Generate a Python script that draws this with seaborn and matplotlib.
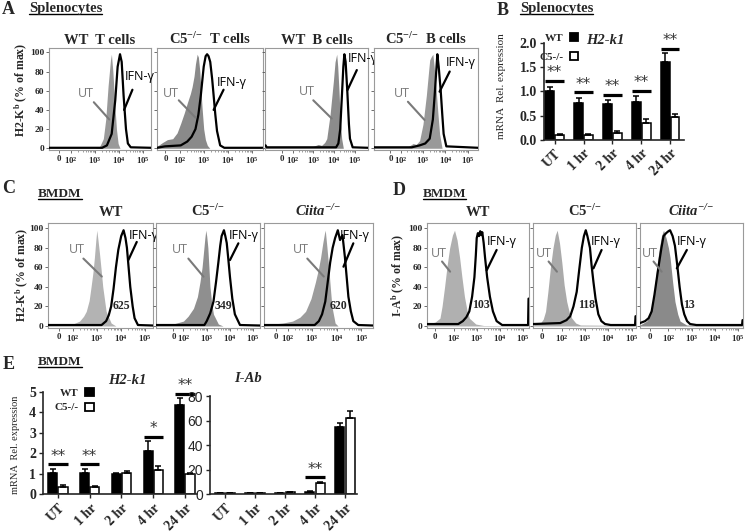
import numpy as np
import pandas as pd
import matplotlib
matplotlib.use('Agg')
import matplotlib.pyplot as plt
import seaborn as sns
from matplotlib.lines import Line2D

# ---------------------------------------------------------------- data
time_points = ['UT', '1 hr', '2 hr', '4 hr', '24 hr']
genotypes = ['WT', 'C5-/-']

# Panel B: splenocytes H2-k1 mRNA
b_wt = [1.02, 0.76, 0.74, 0.79, 1.60]
b_wt_err = [0.07, 0.11, 0.08, 0.12, 0.19]
b_c5 = [0.11, 0.11, 0.15, 0.36, 0.47]
b_c5_err = [0.01, 0.01, 0.04, 0.07, 0.06]
b_sig_y = [1.22, 0.98, 0.93, 1.02, 1.88]
b_sig_lab = ['**', '**', '**', '**', '**']

# Panel E left: BMDM H2-k1 mRNA
e1_wt = [1.05, 1.02, 0.98, 2.10, 4.35]
e1_wt_err = [0.17, 0.20, 0.08, 0.48, 0.32]
e1_c5 = [0.37, 0.37, 1.02, 1.20, 0.97]
e1_c5_err = [0.07, 0.05, 0.12, 0.17, 0.06]
e1_sig_y = [1.46, 1.46, None, 2.80, 4.90]
e1_sig_lab = ['**', '**', '', '*', '**']

# Panel E right: BMDM I-Ab mRNA
e2_wt = [1.0, 1.0, 1.0, 2.2, 55.0]
e2_wt_err = [0.2, 0.2, 0.2, 0.5, 3.3]
e2_c5 = [1.0, 1.0, 1.6, 8.9, 62.3]
e2_c5_err = [0.2, 0.2, 0.3, 1.4, 5.5]
e2_sig_y = [None, None, None, 13.8, None]
e2_sig_lab = ['', '', '', '**', '']

# Flow histograms (x in log10 display units, y in % of max)
# A: splenocytes H2-Kb
a1_ut_x = [1.07, 3.0, 3.2, 3.35, 3.45, 3.55, 3.65, 3.69, 3.75, 3.82, 3.9, 3.97, 4.05, 5.35]
a1_ut_y = [0, 0, 2, 10, 30, 65, 92, 98, 80, 50, 20, 5, 0, 0]
a1_ifn_x = [1.07, 3.3, 3.5, 3.7, 3.85, 3.95, 4.05, 4.12, 4.2, 4.3, 4.38, 4.5, 5.35]
a1_ifn_y = [0.5, 0.5, 3, 15, 50, 85, 98, 90, 55, 20, 5, 1, 0.5]

a2_ut_x = [1.07, 1.3, 1.5, 1.72, 1.9, 2.05, 2.2, 2.32, 2.45, 2.52, 2.6, 2.66, 2.73, 2.78, 2.84, 2.93, 3.0, 3.07, 3.15, 3.25, 5.45]
a2_ut_y = [2, 6, 9, 10, 16, 26, 37, 47, 57, 64, 75, 88, 98, 95, 80, 43, 20, 9, 3, 0, 0]
a2_ifn_x = [1.07, 1.4, 2.05, 2.32, 2.5, 2.66, 2.78, 2.88, 3.0, 3.08, 3.14, 3.2, 3.27, 3.35, 3.41, 3.48, 3.55, 3.68, 3.85, 5.45]
a2_ifn_y = [0.5, 2, 3, 7, 12, 20, 35, 55, 85, 96, 98, 96, 90, 72, 55, 35, 18, 3, 0.5, 0.5]

a3_ut_x = [0.67, 2.5, 3.0, 3.24, 3.4, 3.55, 3.65, 3.81, 3.97, 4.05, 4.13, 4.18, 4.24, 4.3, 4.37, 4.45, 5.64]
a3_ut_y = [1, 1, 2, 4, 3, 6, 10, 35, 70, 90, 98, 85, 60, 30, 10, 0, 0]
a3_ifn_x = [0.67, 0.7, 0.75, 1.0, 4.1, 4.21, 4.3, 4.37, 4.45, 4.5, 4.56, 4.64, 4.72, 4.77, 4.9, 5.64]
a3_ifn_y = [3, 3, 1, 1, 1, 5, 20, 50, 85, 98, 90, 60, 25, 10, 1, 0.5]

a4_ut_x = [0.82, 2.3, 2.56, 2.7, 2.85, 3.0, 3.15, 3.25, 3.3, 3.36, 3.44, 3.5, 3.59, 3.67, 3.74, 3.85, 5.45]
a4_ut_y = [1, 1, 5, 4, 8, 25, 55, 80, 92, 95, 98, 85, 60, 35, 15, 0, 0]
a4_ifn_x = [0.82, 2.5, 2.85, 3.1, 3.3, 3.44, 3.52, 3.59, 3.64, 3.7, 3.79, 3.86, 3.92, 4.04, 5.45]
a4_ifn_y = [1, 1, 3, 5, 10, 30, 55, 80, 98, 85, 60, 35, 15, 2, 0.5]

# C: BMDM H2-Kb
c1_ut_x = [0.96, 1.74, 2.0, 2.28, 2.45, 2.56, 2.68, 2.76, 2.84, 2.9, 2.96, 3.0, 3.05, 3.11, 3.18, 3.25, 3.39, 3.6, 3.8, 5.35]
c1_ut_y = [0.5, 1, 2, 5, 10, 15, 26, 40, 55, 70, 88, 98, 88, 75, 58, 40, 15, 3, 0, 0]
c1_ifn_x = [0.96, 3.2, 3.39, 3.5, 3.6, 3.7, 3.8, 3.9, 4.02, 4.12, 4.2, 4.26, 4.33, 4.4, 4.5, 4.58, 4.72, 5.35]
c1_ifn_y = [1, 1, 5, 11, 20, 38, 60, 78, 92, 98, 90, 80, 60, 40, 20, 8, 1, 0.5]

c2_ut_x = [0.82, 1.4, 2.0, 2.2, 2.43, 2.6, 2.71, 2.8, 2.86, 2.92, 2.96, 3.0, 3.05, 3.14, 3.22, 3.29, 3.5, 3.7, 5.29]
c2_ut_y = [0.5, 1, 5, 10, 18, 30, 45, 60, 75, 90, 98, 92, 80, 40, 22, 12, 2, 0, 0]
c2_ifn_x = [0.82, 2.9, 3.0, 3.15, 3.29, 3.4, 3.5, 3.58, 3.64, 3.74, 3.8, 3.86, 3.93, 4.0, 4.1, 4.21, 4.43, 5.29]
c2_ifn_y = [1, 1, 5, 13, 25, 45, 65, 82, 92, 98, 92, 85, 68, 50, 28, 12, 1, 0.5]

c3_ut_x = [1.04, 1.4, 1.8, 2.2, 2.5, 2.73, 2.95, 3.13, 3.25, 3.34, 3.43, 3.5, 3.53, 3.6, 3.67, 3.74, 3.8, 3.93, 4.05, 5.47]
c3_ut_y = [1, 2, 3, 5, 9, 15, 28, 45, 58, 70, 85, 95, 98, 80, 60, 38, 20, 3, 0, 0]
c3_ifn_x = [1.04, 3.1, 3.27, 3.4, 3.53, 3.63, 3.73, 3.83, 3.93, 4.04, 4.13, 4.23, 4.33, 4.4, 4.47, 4.57, 4.67, 4.87, 5.47]
c3_ifn_y = [1, 1, 5, 12, 25, 45, 65, 80, 90, 98, 88, 93, 70, 50, 30, 15, 5, 1, 0.5]

# D: BMDM I-Ab
d1_ut_x = [0.85, 1.2, 1.41, 1.5, 1.61, 1.72, 1.83, 1.95, 2.04, 2.15, 2.26, 2.36, 2.47, 2.58, 2.68, 2.96, 3.3, 5.26]
d1_ut_y = [2, 4, 8, 20, 40, 62, 80, 93, 98, 88, 70, 50, 30, 16, 8, 2, 0.5, 0.5]
d1_ifn_x = [0.85, 2.2, 2.4, 2.55, 2.68, 2.8, 2.9, 2.96, 3.0, 3.05, 3.1, 3.15, 3.2, 3.24, 3.3, 3.36, 3.45, 3.57, 3.7, 3.86, 4.1, 5.22, 5.24, 5.26]
d1_ifn_y = [2, 2, 5, 9, 15, 30, 50, 72, 90, 95, 92, 97, 93, 96, 85, 70, 50, 30, 15, 5, 1, 1, 28, 28]

d2_ut_x = [0.76, 1.08, 1.2, 1.3, 1.4, 1.51, 1.62, 1.72, 1.8, 1.9, 2.0, 2.1, 2.21, 2.32, 2.43, 2.6, 2.8, 5.19]
d2_ut_y = [1, 3, 7, 15, 35, 60, 80, 93, 98, 85, 65, 42, 25, 14, 8, 3, 1, 0.5]
d2_ifn_x = [0.76, 1.93, 2.2, 2.36, 2.5, 2.64, 2.75, 2.86, 2.95, 3.03, 3.1, 3.21, 3.28, 3.36, 3.45, 3.57, 3.7, 3.86, 4.1, 5.15, 5.17, 5.19]
d2_ifn_y = [2, 3, 6, 10, 20, 35, 58, 80, 92, 98, 92, 80, 62, 45, 28, 12, 5, 2, 1, 1, 10, 10]

d3_ut_x = [0.78, 1.07, 1.18, 1.28, 1.4, 1.5, 1.6, 1.7, 1.79, 1.9, 2.0, 2.07, 2.18, 2.28, 2.4, 2.5, 2.78, 5.2]
d3_ut_y = [1, 5, 10, 20, 38, 60, 78, 92, 98, 90, 80, 70, 45, 25, 12, 5, 1, 0.5]
d3_ifn_x = [0.78, 1.0, 1.15, 1.28, 1.4, 1.57, 1.7, 1.79, 1.9, 2.0, 2.07, 2.18, 2.28, 2.38, 2.48, 2.58, 2.68, 2.8, 2.93, 3.2, 5.16, 5.18, 5.2]
d3_ifn_y = [3, 5, 8, 15, 32, 60, 80, 92, 95, 97, 98, 92, 82, 62, 40, 22, 12, 5, 2, 1, 1, 6, 6]

mfi_numbers = ['625', '349', '620', '103', '118', '13']

# ---------------------------------------------------------------- style
sns.set_style('ticks')
SERIF = ['Liberation Serif', 'DejaVu Serif']
SANS = ['Open Sans', 'DejaVu Sans']
plt.rcParams['font.family'] = SERIF

W, H = 745, 532
fig = plt.figure(figsize=(W / 100, H / 100), dpi=100)


def px_axes(l, r, t, b):
    return fig.add_axes([l / W, 1 - b / H, (r - l) / W, (b - t) / H])


def sup(s):
    return r'$\mathregular{^{' + s + '}}$'


KO = sup('{-}/{-}')
XTL = ['0', r'$\mathregular{10^2}$', r'$\mathregular{10^3}$',
       r'$\mathregular{10^4}$', r'$\mathregular{10^5}$']


def hist_panel(ax, ux, uy, ix, iy, gray, xlim, ylim, zero_pos, show_ylab,
               ut_txt, ut_ln, ifn_txt, ifn_ln, number=None, num_pos=None):
    ax.fill_between(ux, uy, 0, color=gray, lw=0, zorder=1)
    sns.lineplot(x=ix, y=iy, ax=ax, color='black', lw=1.6, estimator=None,
                 sort=False, zorder=3)
    ax.set_xlim(*xlim)
    ax.set_ylim(*ylim)
    ax.set_xticks([zero_pos, 2, 3, 4, 5])
    ax.set_xticklabels(XTL, fontsize=6.3, family=SERIF, fontweight='bold')
    minor = [d + np.log10(k) for d in range(2, 5) for k in range(2, 10)]
    ax.set_xticks(minor, minor=True)
    ax.set_yticks([0, 20, 40, 60, 80, 100])
    if show_ylab:
        ax.set_yticklabels(['0', '20', '40', '60', '80', '100'], fontsize=6.8,
                           fontweight='bold', family=SERIF)
    else:
        ax.set_yticklabels([])
    ax.tick_params(axis='both', which='major', length=2, width=0.6, pad=1.5,
                   color='#555555')
    ax.tick_params(axis='x', which='minor', length=1.2, width=0.5, color='#777777')
    for sp in ax.spines.values():
        sp.set_visible(True)
        sp.set_color('#9a9a9a')
        sp.set_linewidth(0.8)
    ax.set_xlabel('')
    ax.set_ylabel('')
    # annotations
    ax.text(ut_txt[0], ut_txt[1], 'UT', color='#7a7a7a', fontsize=9,
            family=SANS, ha='center', va='center', clip_on=False, zorder=5)
    ax.plot([ut_ln[0][0], ut_ln[1][0]], [ut_ln[0][1], ut_ln[1][1]],
            color='#7a7a7a', lw=1.5, zorder=5, clip_on=False)
    ax.text(ifn_txt[0], ifn_txt[1], 'IFN-γ', color='black', fontsize=9,
            family=SANS, ha='center', va='center', clip_on=False, zorder=5)
    ax.plot([ifn_ln[0][0], ifn_ln[1][0]], [ifn_ln[0][1], ifn_ln[1][1]],
            color='black', lw=1.6, zorder=5, clip_on=False)
    if number is not None:
        ax.text(num_pos[0], num_pos[1], number, fontsize=8.5, fontweight='bold',
                family=SERIF, ha='center', va='center', zorder=6)


YL_A = (-1.8, 104.2)
YL_C = (-2.05, 105.1)

# ---- Row A
axA = [px_axes(49, 151, 48.3, 150), px_axes(157, 263, 48.3, 150),
       px_axes(265, 368, 48.3, 150), px_axes(374, 478, 48.3, 150)]
hist_panel(axA[0], a1_ut_x, a1_ut_y, a1_ifn_x, a1_ifn_y, '#999999', (1.07, 5.35), YL_A, 1.49, True,
           (2.6, 57), ((2.95, 48), (3.6, 30)), (4.88, 75), ((4.57, 61), (4.22, 40)))
hist_panel(axA[1], a2_ut_x, a2_ut_y, a2_ifn_x, a2_ifn_y, '#8a8a8a', (1.07, 5.45), YL_A, 1.42, False,
           (1.66, 57), ((1.97, 50), (2.66, 32)), (4.14, 69), ((3.82, 61), (3.41, 40)))
hist_panel(axA[2], a3_ut_x, a3_ut_y, a3_ifn_x, a3_ifn_y, '#8c8c8c', (0.67, 5.64), YL_A, 1.5, False,
           (2.68, 59), ((3.0, 50), (3.89, 31)), (5.4, 94), ((5.1, 81.5), (4.65, 60.7)))
hist_panel(axA[3], a4_ut_x, a4_ut_y, a4_ifn_x, a4_ifn_y, '#999999', (0.82, 5.45), YL_A, 1.55, False,
           (2.04, 57), ((2.33, 48.5), (3.07, 29.5)), (4.68, 89), ((4.19, 80), (3.74, 59)))
a_titles = ['WT  T cells', 'C5' + KO + '  T cells', 'WT  B cells', 'C5' + KO + '  B cells']
for ax, t in zip(axA, a_titles):
    ax.set_title(t, fontsize=10.5, fontweight='bold', family=SERIF, pad=3)
axA[0].set_ylabel('H2-K' + sup('b') + ' (% of max)', fontsize=8.5, fontweight='bold', family=SERIF)
axA[0].yaxis.set_label_coords(-0.2, 0.59)

# ---- Row C
axC = [px_axes(48, 153, 223.3, 328), px_axes(156, 260, 223.3, 328), px_axes(264, 373, 223.3, 328)]
hist_panel(axC[0], c1_ut_x, c1_ut_y, c1_ifn_x, c1_ifn_y, '#b3b3b3', (0.96, 5.35), YL_C, 1.4, True,
           (2.17, 78), ((2.44, 69), (3.21, 50.6)), (4.94, 93), ((4.67, 86), (4.32, 67.5)),
           mfi_numbers[0], (4.04, 20))
hist_panel(axC[1], c2_ut_x, c2_ut_y, c2_ifn_x, c2_ifn_y, '#8f8f8f', (0.82, 5.29), YL_C, 1.57, False,
           (1.85, 78), ((2.21, 69), (2.86, 50.5)), (4.6, 93), ((4.36, 84.6), (4.0, 67.5)),
           mfi_numbers[1], (3.7, 20))
hist_panel(axC[2], c3_ut_x, c3_ut_y, c3_ifn_x, c3_ifn_y, '#9c9c9c', (1.04, 5.47), YL_C, 1.54, False,
           (2.54, 78), ((2.8, 69), (3.47, 50.6)), (4.74, 93), ((4.67, 84.6), (4.27, 60.7)),
           mfi_numbers[2], (4.07, 20))
axC[0].set_title('WT', fontsize=10.5, fontweight='bold', family=SERIF, pad=5, x=0.6)
axC[1].set_title('C5' + KO, fontsize=10.5, fontweight='bold', family=SERIF, pad=5)
axC[2].set_title('Ciita' + KO, fontsize=10.5, fontweight='bold', fontstyle='italic',
                 family=SERIF, pad=5)
axC[0].set_ylabel('H2-K' + sup('b') + ' (% of max)', fontsize=8.5, fontweight='bold', family=SERIF)
axC[0].yaxis.set_label_coords(-0.17, 0.51)

# ---- Row D
axD = [px_axes(427, 529, 223.3, 328), px_axes(533, 636, 223.3, 328), px_axes(640, 743, 223.3, 328)]
hist_panel(axD[0], d1_ut_x, d1_ut_y, d1_ifn_x, d1_ifn_y, '#b0b0b0', (0.85, 5.26), YL_C, 1.21, True,
           (1.38, 74.4), ((1.5, 66), (1.85, 55.6)), (4.07, 86), ((3.86, 77.8), (3.43, 57)),
           mfi_numbers[3], (3.18, 21.5))
hist_panel(axD[1], d2_ut_x, d2_ut_y, d2_ifn_x, d2_ifn_y, '#aaaaaa', (0.76, 5.19), YL_C, 1.14, False,
           (1.21, 74.4), ((1.43, 66), (1.79, 55.6)), (3.9, 86), ((3.71, 77.8), (3.36, 59)),
           mfi_numbers[4], (3.07, 21.5))
hist_panel(axD[2], d3_ut_x, d3_ut_y, d3_ifn_x, d3_ifn_y, '#8a8a8a', (0.78, 5.2), YL_C, 1.21, False,
           (1.21, 74.4), ((1.36, 66), (1.71, 55.6)), (3.0, 86), ((2.79, 77.8), (2.36, 59)),
           mfi_numbers[5], (2.88, 21.5))
axD[0].set_title('WT', fontsize=10.5, fontweight='bold', family=SERIF, pad=5)
axD[1].set_title('C5' + KO, fontsize=10.5, fontweight='bold', family=SERIF, pad=5)
axD[2].set_title('Ciita' + KO, fontsize=10.5, fontweight='bold', fontstyle='italic',
                 family=SERIF, pad=5)
axD[0].set_ylabel('I-A' + sup('b') + ' (% of max)', fontsize=8.5, fontweight='bold', family=SERIF)
axD[0].yaxis.set_label_coords(-0.21, 0.5)


# ---------------------------------------------------------------- bar panels
def bar_panel(ax, wt, wt_err, c5, c5_err, sig_y, sig_lab, xlim, ylim, yticks,
              ytick_font, bar_width, legend_anchor=None, legend_spacing=0.5):
    df = pd.DataFrame({'Time': time_points * 2,
                       'Genotype': ['WT'] * len(wt) + ['C5-/-'] * len(c5),
                       'Expr': wt + c5})
    sns.barplot(data=df, x='Time', y='Expr', hue='Genotype', hue_order=genotypes,
                palette={'WT': 'black', 'C5-/-': 'white'}, edgecolor='black',
                linewidth=1.1, width=bar_width, gap=0.1, errorbar=None, ax=ax,
                legend=legend_anchor is not None)
    for cont, err in zip(ax.containers, [wt_err, c5_err]):
        xs = [r.get_x() + r.get_width() / 2 for r in cont]
        hs = [r.get_height() for r in cont]
        ax.errorbar(xs, hs, yerr=[np.zeros(len(err)), err], fmt='none', ecolor='black',
                    elinewidth=1.1, capsize=2.3, capthick=1.1, zorder=1)
    rng = ylim[1] - ylim[0]
    for i, (y, lab) in enumerate(zip(sig_y, sig_lab)):
        if y is None:
            continue
        l = ax.containers[0][i].get_x()
        r = ax.containers[1][i].get_x() + ax.containers[1][i].get_width()
        ax.plot([l, r], [y, y], color='black', lw=2.3, solid_capstyle='butt', clip_on=False)
        ax.text((l + r) / 2, y + 0.005 * rng, lab, ha='center', va='bottom', fontsize=11,
                family=['DejaVu Sans'], color='#333333', clip_on=False)
    ax.set_xlim(*xlim)
    ax.set_ylim(*ylim)
    ax.set_yticks(yticks)
    ax.set_yticklabels([('%g' % v) if ytick_font != 'b' else ('%.1f' % v) for v in yticks])
    for lab in ax.get_yticklabels():
        if ytick_font == 'sans':
            lab.set_fontfamily(['Liberation Sans', 'DejaVu Sans'])
            lab.set_fontsize(10)
        else:
            lab.set_fontfamily(SERIF)
            lab.set_fontweight('bold')
            lab.set_fontsize(10)
    ax.set_xticks(range(len(time_points)))
    ax.set_xticklabels(time_points, rotation=45, ha='right', rotation_mode='anchor',
                       fontsize=10, fontweight='bold', family=SERIF)
    ax.tick_params(axis='both', length=3, width=1.0, pad=2)
    sns.despine(ax=ax)
    for sp in ['left', 'bottom']:
        ax.spines[sp].set_linewidth(1.2)
    ax.set_xlabel('')
    ax.set_ylabel('')
    if legend_anchor is not None:
        handles, labels = ax.get_legend_handles_labels()
        leg = ax.legend(handles, labels, markerfirst=False, frameon=False, loc='upper right',
                        bbox_to_anchor=legend_anchor, borderaxespad=0, borderpad=0,
                        handlelength=0.75, handleheight=0.75, handletextpad=0.6,
                        labelspacing=legend_spacing, prop={'family': SERIF, 'size': 8, 'weight': 'bold'})
        for p in leg.get_patches():
            p.set_edgecolor('black')
            p.set_linewidth(1.3)


axB = px_axes(544, 684, 43, 140)
bar_panel(axB, b_wt, b_wt_err, b_c5, b_c5_err, b_sig_y, b_sig_lab, (-0.37, 4.48), (0, 2.0),
          [0, 0.5, 1.0, 1.5, 2.0], 'b', 0.68, legend_anchor=(0.245, 1.1), legend_spacing=0.75)
axB.text(0.44, 1.03, 'H2-k1', transform=axB.transAxes, ha='center', va='center',
         fontsize=10.5, fontweight='bold', fontstyle='italic', family=SERIF)
axB.set_ylabel('mRNA  Rel. expression', fontsize=8, family=SERIF)
axB.yaxis.set_label_coords(-0.27, 0.56)

axE1 = px_axes(43, 197, 391.7, 494.3)
bar_panel(axE1, e1_wt, e1_wt_err, e1_c5, e1_c5_err, e1_sig_y, e1_sig_lab, (-0.47, 4.38), (0, 5),
          [0, 1, 2, 3, 4, 5], 'serif', 0.64, legend_anchor=(0.33, 1.04), legend_spacing=0.45)
axE1.text(0.55, 1.11, 'H2-k1', transform=axE1.transAxes, ha='center', va='center',
          fontsize=10.5, fontweight='bold', fontstyle='italic', family=SERIF)
axE1.set_ylabel('mRNA  Rel. expression', fontsize=7.5, family=SERIF)
axE1.yaxis.set_label_coords(-0.15, 0.48)

axE2 = px_axes(210, 357, 396, 494.3)
bar_panel(axE2, e2_wt, e2_wt_err, e2_c5, e2_c5_err, e2_sig_y, e2_sig_lab, (-0.5, 4.4), (0, 80),
          [0, 20, 40, 60, 80], 'sans', 0.67)
axE2.text(0.26, 1.18, 'I-Ab', transform=axE2.transAxes, ha='center', va='center',
          fontsize=10.5, fontweight='bold', fontstyle='italic', family=SERIF)

# ---------------------------------------------------------------- headers
headers = [
    (2, 14, 'A', 29, 12, 'Splenocytes', 10.5),
    (497, 15, 'B', 520, 12, 'Splenocytes', 10.5),
    (2, 193, 'C', 38, 197, 'BMDM', 9.5),
    (393, 195, 'D', 423, 197, 'BMDM', 9.5),
    (3, 369, 'E', 38, 365, 'BMDM', 9.5),
]
word_texts = []
for lx, ly, letter, wx, wy, word, fs in headers:
    fig.text(lx / W, 1 - ly / H, letter, fontsize=13, fontweight='bold', family=SERIF, va='baseline')
    t = fig.text(wx / W, 1 - wy / H, word, fontsize=fs, fontweight='bold', family=SERIF, va='baseline')
    word_texts.append((t, wy))

fig.canvas.draw()
renderer = fig.canvas.get_renderer()
for t, wy in word_texts:
    bb = t.get_window_extent(renderer)
    uy = 1 - (wy + 2.3) / H
    fig.add_artist(Line2D([bb.x0 / W, bb.x1 / W], [uy, uy], transform=fig.transFigure,
                          color='black', lw=1.0))

fig.savefig('out.png', dpi=100)
